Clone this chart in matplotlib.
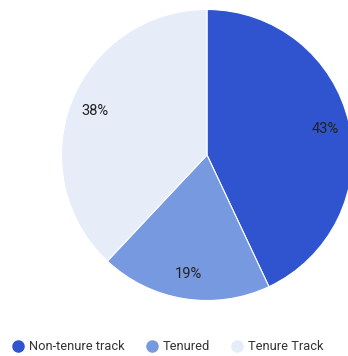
import matplotlib
matplotlib.use("Agg")
import matplotlib.pyplot as plt
from matplotlib.lines import Line2D

plt.rcParams['font.family'] = ['Roboto', 'DejaVu Sans']

# faculty appointment split
labels = ["Non-tenure track", "Tenured", "Tenure Track"]
shares = [43, 19, 38]
colors = ["#3053cf", "#7799e0", "#e6ecf8"]

W, H, DPI = 348, 356, 100
cx, cy, r = 207, 155, 145.5  # pie centre and radius in pixels (from top-left)

fig = plt.figure(figsize=(W / DPI, H / DPI), dpi=DPI)
ax = fig.add_axes([0, 0, 1, 1])
ax.pie(shares, colors=colors, startangle=90, counterclock=False,
       autopct='%d%%', pctdistance=0.83,
       wedgeprops=dict(edgecolor='white', linewidth=0.8),
       textprops=dict(fontsize=10.5, color='#222222'))
ax.set_xlim((0 - cx) / r, (W - cx) / r)
ax.set_ylim((cy - H) / r, cy / r)
ax.set_aspect('auto')
ax.axis('off')

handles = [Line2D([], [], marker='o', linestyle='none', markersize=8,
                  markerfacecolor=c, markeredgecolor=c) for c in colors]
fig.legend(handles, labels, ncol=3, loc='center', bbox_to_anchor=(0.48, 1 - 347 / H),
           frameon=False, fontsize=9.3, labelcolor='#333333',
           handletextpad=0.25, columnspacing=1.5, handlelength=1.2)

fig.savefig("out.png", dpi=DPI)
